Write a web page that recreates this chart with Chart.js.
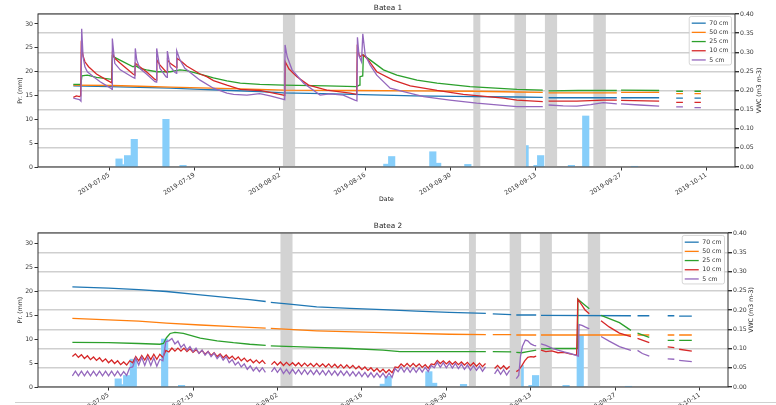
<!DOCTYPE html>
<html>
<head>
<meta charset="utf-8">
<script src="https://cdn.jsdelivr.net/npm/chart.js@4.4.1/dist/chart.umd.min.js"></script>
<style>
  html, body { margin: 0; padding: 0; background: #fff; overflow: hidden; }
  body { width: 776px; height: 405px; position: relative; }
  #batea1 { position: absolute; left: 0; top: 0; }
  #batea2 { position: absolute; left: 0; top: 210px; }
  .edge { position: absolute; left: 15px; right: 0; top: 402px; height: 1px; background: #d0d0d0; }
</style>
</head>
<body>
<canvas id="batea1" width="776" height="210"></canvas>
<canvas id="batea2" width="776" height="240"></canvas>
<div class="edge"></div>
<script>
// x values are days counted from 2019-07-05
const tickDays = [0, 14, 28, 42, 56, 70, 84, 98];
const tickLabels = ['2019-07-05', '2019-07-19', '2019-08-02', '2019-08-16', '2019-08-30', '2019-09-13', '2019-09-27', '2019-10-11'];
const prTicks = [0, 5, 10, 15, 20, 25, 30];
const vwcTicks = [0, 0.05, 0.10, 0.15, 0.20, 0.25, 0.30, 0.35, 0.40];
const depthLabels = ['70 cm', '50 cm', '25 cm', '10 cm', '5 cm'];

// precipitation (mm), same for both beds
const precipDays = [1.6, 2.35, 3.0, 4.1, 9.3, 12.1, 45.55, 46.35, 53.1, 53.9, 58.85, 68.25, 70.2, 70.8, 75.85, 78.2, 86.2];
const precipMm   = [1.7, 0.5, 2.4, 5.8, 10.0, 0.35, 0.6, 2.2, 3.2, 0.8, 0.55, 4.5, 0.35, 2.4, 0.35, 10.7, 0.15];

// grey periods [from, to] in days
const greyPeriods = [[28.5, 30.5], [59.75, 60.9], [66.5, 68.4], [71.5, 73.5], [79.45, 81.5]];

// ---- Batea 1, VWC (m3 m-3) as [day, value]
const b1_70 = [[-5.9,0.212],[0,0.210],[5,0.208],[10,0.206],[15,0.203],[20,0.200],[24.7,0.197],[28.6,0.194],[35,0.192],[40,0.190],[50,0.186],[60,0.184],[66.9,0.183],[71.15,0.182],[71.6,null],[72.1,0.181],[83.3,0.181],[83.7,null],[84.0,0.181],[90.25,0.181],[91,null],[93.05,0.180],[94.15,0.180],[95,null],[96.05,0.180],[97.1,0.180]];
const b1_50 = [[-5.9,0.214],[0.5,0.213],[5,0.211],[10,0.209],[15,0.207],[20,0.205],[24.7,0.203],[28.6,0.201],[40,0.200],[50,0.199],[60,0.198],[66.9,0.196],[71.15,0.195],[71.6,null],[72.1,0.194],[83.3,0.194],[83.7,null],[84.0,0.195],[90.25,0.195],[91,null],[93.05,0.192],[94.15,0.192],[95,null],[96.05,0.192],[97.1,0.192]];
const b1_25 = [[-5.9,0.216],[-4.65,0.216],[-4.5,0.238],[-3.6,0.240],[-2.1,0.234],[0.4,0.229],[0.5,0.290],[1.2,0.284],[3.9,0.262],[4.3,0.265],[5.0,0.258],[6.1,0.254],[7.8,0.249],[10.0,0.249],[11.6,0.254],[12.7,0.252],[14.9,0.243],[17.1,0.233],[19.3,0.225],[21.5,0.219],[24.7,0.216],[28.6,0.214],[35.7,0.212],[40.6,0.210],[41.05,0.214],[41.15,0.236],[41.6,0.238],[41.7,0.293],[42.8,0.280],[45.0,0.254],[47.2,0.240],[50.5,0.227],[53.8,0.219],[59.2,0.210],[66.9,0.203],[71.15,0.201],[71.6,null],[72.1,0.199],[77,0.200],[83.3,0.200],[83.7,null],[84.0,0.201],[90.25,0.200],[91,null],[93.05,0.198],[94.15,0.198],[95,null],[96.05,0.198],[97.1,0.198]];
const b1_10 = [[-5.9,0.182],[-5.4,0.186],[-4.9,0.184],[-4.7,0.186],[-4.6,0.315],[-4.3,0.290],[-4.0,0.275],[-3.4,0.262],[-2.1,0.243],[-0.4,0.227],[0.4,0.220],[0.52,0.297],[0.9,0.284],[1.8,0.271],[3.9,0.243],[4.2,0.240],[4.27,0.271],[5.0,0.262],[6.1,0.249],[7.5,0.229],[7.74,0.227],[7.8,0.280],[8.3,0.267],[9.3,0.249],[9.5,0.247],[9.56,0.280],[10.0,0.271],[10.8,0.262],[11.05,0.260],[11.1,0.284],[11.9,0.275],[12.7,0.264],[14.9,0.243],[16.0,0.236],[17.1,0.226],[19.3,0.214],[21.5,0.203],[24.7,0.200],[28.6,0.188],[28.8,0.187],[28.88,0.275],[29.5,0.256],[30.8,0.236],[32.7,0.214],[35.7,0.201],[39.5,0.193],[40.6,0.190],[40.7,0.310],[41.1,0.288],[41.6,0.293],[42.0,0.288],[42.5,0.280],[43.9,0.249],[46.6,0.227],[49.4,0.212],[53.8,0.200],[58.1,0.190],[64.7,0.180],[66.9,0.175],[71.15,0.171],[71.6,null],[72.1,0.172],[76.75,0.172],[81.1,0.175],[83.3,0.175],[83.7,null],[84.0,0.174],[90.25,0.172],[91,null],[93.05,0.169],[94.15,0.169],[95,null],[96.05,0.169],[97.1,0.169]];
const b1_5 = [[-5.9,0.180],[-5.4,0.178],[-4.9,0.176],[-4.65,0.172],[-4.53,0.361],[-4.3,0.288],[-4.0,0.262],[-3.6,0.249],[-2.6,0.236],[-1.5,0.223],[-0.4,0.212],[0.3,0.205],[0.45,0.203],[0.5,0.336],[0.9,0.271],[1.8,0.254],[3.9,0.234],[4.2,0.232],[4.27,0.310],[4.5,0.280],[5.0,0.258],[6.1,0.243],[7.5,0.223],[7.74,0.222],[7.78,0.310],[8.3,0.258],[9.3,0.236],[9.5,0.234],[9.53,0.303],[10.0,0.262],[10.8,0.247],[11.05,0.245],[11.07,0.304],[11.6,0.280],[12.4,0.258],[14.9,0.227],[17.1,0.206],[19.3,0.193],[20.4,0.190],[22.6,0.188],[24.7,0.192],[26.4,0.186],[28.6,0.177],[28.8,0.176],[28.85,0.319],[29.2,0.288],[30.0,0.254],[31.9,0.219],[34.6,0.188],[36.2,0.191],[38.4,0.188],[40.3,0.175],[40.65,0.173],[40.73,0.339],[41.0,0.290],[41.4,0.275],[41.61,0.348],[42.0,0.293],[42.8,0.267],[43.9,0.240],[46.1,0.206],[48.3,0.197],[51.6,0.184],[55.9,0.175],[60.3,0.167],[66.9,0.158],[71.15,0.158],[71.6,null],[72.1,0.162],[74.5,0.160],[76.75,0.159],[79,0.163],[81.1,0.168],[83.3,0.165],[83.7,null],[84.0,0.165],[87,0.162],[90.25,0.159],[91,null],[93.05,0.157],[94.15,0.157],[95,null],[96.05,0.155],[97.1,0.155]];

// ---- Batea 2
const b2_70 = [[-6,0.260],[0,0.257],[5,0.253],[9.6,0.248],[15.2,0.239],[20.7,0.231],[23.4,0.227],[26.05,0.222],[26.5,null],[26.9,0.220],[30,0.215],[34.5,0.208],[40,0.204],[45.5,0.201],[51,0.197],[56.5,0.194],[62.55,0.191],[63.1,null],[63.7,0.190],[66.75,0.188],[67.1,null],[67.6,0.187],[70.9,0.187],[71.3,null],[71.7,0.186],[86.6,0.185],[87.1,null],[87.7,0.185],[89.65,0.185],[91,null],[92.7,0.185],[93.8,0.185],[94.2,null],[94.6,0.184],[96.7,0.184]];
const b2_50 = [[-6,0.178],[5,0.171],[9.6,0.166],[15.2,0.161],[20.7,0.157],[26.05,0.153],[26.5,null],[26.9,0.152],[34.5,0.146],[45.5,0.141],[56.5,0.137],[62.55,0.136],[63.1,null],[63.7,0.136],[66.75,0.136],[67.1,null],[67.6,0.135],[70.9,0.135],[71.3,null],[71.7,0.135],[86.6,0.135],[87.1,null],[87.7,0.135],[89.65,0.135],[91,null],[92.7,0.135],[93.8,0.135],[94.2,null],[94.6,0.135],[96.7,0.135]];
const b2_25 = [[-6,0.116],[0,0.115],[5,0.113],[8.5,0.111],[9.1,0.113],[9.6,0.128],[10.2,0.139],[11,0.142],[12.4,0.139],[15.2,0.127],[18,0.120],[20.7,0.115],[23.4,0.111],[26.05,0.108],[26.5,null],[26.9,0.107],[34.5,0.103],[40,0.100],[45.5,0.096],[48.3,0.092],[56.5,0.092],[62.55,0.092],[63.1,null],[63.7,0.092],[66.75,0.091],[67.1,null],[67.6,0.090],[68.5,0.089],[69.5,0.092],[70.9,0.096],[71.3,null],[71.7,0.099],[74,0.100],[77.7,0.100],[77.8,0.228],[78.5,0.219],[79.7,0.203],[80.5,null],[81.65,0.186],[84.7,0.167],[86.6,0.147],[87.1,null],[87.7,0.140],[89.65,0.129],[91,null],[92.7,0.121],[93.8,0.121],[94.2,null],[94.6,0.121],[96.7,0.121]];
// 10 cm and 5 cm swing every day: readings every half day from day -6 to 66.5, then the tail
const b2_10_halfDay = [
  0.079,0.086,0.077,0.084,0.074,0.081,0.071,0.078,0.069,0.076,0.066,0.073,
  0.063,0.070,0.061,0.068,0.058,0.065,0.057,0.068,0.063,0.079,0.068,0.082,
  0.070,0.084,0.071,0.085,0.072,0.085,0.077,0.095,0.091,0.101,0.093,0.101,
  0.093,0.101,0.092,0.099,0.090,0.097,0.088,0.095,0.085,0.092,0.082,0.089,
  0.079,0.086,0.076,0.083,0.074,0.080,0.071,0.078,0.068,0.075,0.066,0.072,
  0.063,0.070,0.062,0.069,0.060,null,0.058,0.066,0.057,0.065,0.056,0.064,
  0.056,0.063,0.055,0.063,0.054,0.062,0.054,0.061,0.053,0.061,0.053,0.060,
  0.052,0.060,0.051,0.059,0.050,0.058,0.049,0.057,0.049,0.056,0.047,0.054,
  0.045,0.052,0.043,0.050,0.041,0.048,0.039,0.046,0.037,0.045,0.037,0.052,
  0.050,0.060,0.053,0.061,0.053,0.061,0.053,0.060,0.051,0.058,0.049,0.060,
  0.058,0.069,0.061,0.068,0.060,0.067,0.059,0.066,0.058,0.065,0.057,0.064,
  0.055,0.063,0.054,0.062,0.053,0.061,null,null,0.048,0.056,0.047,0.055,
  0.046,0.054];
const b2_10_tail = [[67.1,null],[67.6,0.040],[68.0,0.044],[68.5,0.055],[69.0,0.068],[69.5,0.077],[70.0,0.079],[70.5,0.078],[70.9,0.080],[71.3,null],[71.7,0.096],[72.5,0.092],[73.5,0.094],[74.5,0.089],[75.5,0.090],[76.5,0.086],[77.6,0.083],[77.8,0.228],[78.5,0.212],[79.0,0.200],[79.7,0.190],[80.5,null],[81.65,0.172],[83.0,0.156],[84.7,0.140],[86.6,0.131],[87.1,null],[87.7,0.126],[89.65,0.115],[91.0,null],[92.7,0.104],[93.8,0.102],[94.2,null],[94.6,0.098],[96.7,0.093]];
const b2_5_halfDay = [
  0.029,0.041,0.029,0.041,0.029,0.041,0.029,0.041,0.029,0.041,0.029,0.041,
  0.029,0.041,0.029,0.041,0.029,0.040,0.030,0.050,0.052,0.075,0.057,0.077,
  0.056,0.077,0.056,0.076,0.054,0.072,0.068,0.118,0.120,0.126,0.112,0.119,
  0.103,0.111,0.096,0.105,0.092,0.101,0.087,0.096,0.083,0.092,0.079,0.088,
  0.074,0.083,0.070,0.079,0.063,0.071,0.057,0.065,0.052,0.060,0.046,0.055,
  0.042,0.051,0.040,0.050,0.038,null,0.039,0.050,0.038,0.049,0.035,0.046,
  0.034,0.046,0.034,0.045,0.033,0.045,0.033,0.044,0.032,0.044,0.032,0.043,
  0.031,0.043,0.031,0.042,0.030,0.042,0.030,0.041,0.029,0.040,0.028,0.039,
  0.027,0.038,0.026,0.037,0.025,0.036,0.025,0.036,0.024,0.036,0.025,0.048,
  0.040,0.052,0.039,0.051,0.038,0.050,0.038,0.050,0.039,0.051,0.040,0.056,
  0.050,0.064,0.051,0.063,0.050,0.062,0.049,0.061,0.048,0.059,0.046,0.057,
  0.044,0.055,0.043,0.054,0.041,0.052,null,null,0.034,0.046,0.033,0.045,
  0.031,0.043];
const b2_5_tail = [[67.1,null],[67.6,0.022],[68.0,0.030],[68.3,0.080],[68.6,0.105],[69.1,0.122],[69.5,0.120],[70.0,0.112],[70.5,0.108],[70.9,0.107],[71.3,null],[71.7,0.112],[72.5,0.108],[73.5,0.101],[74.5,0.096],[75.5,0.091],[76.5,0.087],[77.5,0.082],[77.9,0.080],[78.0,0.162],[78.5,0.160],[79.0,0.156],[79.7,0.151],[80.5,null],[81.65,0.131],[83.0,0.119],[84.7,0.105],[86.6,0.095],[87.1,null],[87.7,0.095],[88.5,0.087],[89.65,0.080],[91.0,null],[92.7,0.073],[93.8,0.072],[94.2,null],[94.6,0.069],[96.7,0.066]];

const FONT = '"DejaVu Sans", sans-serif';
const depthColors = ['#1f77b4', '#ff7f0e', '#2ca02c', '#d62728', '#9467bd'];

function halfDaySeries(startDay, values) {
  return values.map((v, i) => [startDay + i * 0.5, v]);
}

// grey periods go over the bars but under the lines
const greyBands = {
  id: 'greyBands',
  afterDatasetDraw(chart, args) {
    if (chart.data.datasets[args.index].type !== 'bar') return;
    const { ctx, chartArea: a, scales: { x } } = chart;
    ctx.save();
    ctx.beginPath();
    ctx.rect(a.left, a.top, a.width, a.height);
    ctx.clip();
    ctx.fillStyle = '#d3d3d3';
    greyPeriods.forEach(([from, to]) => {
      const x0 = x.getPixelForValue(from), x1 = x.getPixelForValue(to);
      ctx.fillRect(x0, a.top, x1 - x0, a.height);
    });
    ctx.restore();
  }
};

const frameAndLegend = {
  id: 'frameAndLegend',
  afterDraw(chart, args, opts) {
    const { ctx, chartArea: a } = chart;
    ctx.save();
    ctx.strokeStyle = '#333';
    ctx.lineWidth = 1;
    ctx.strokeRect(a.left, a.top, a.width, a.height);

    // right axis title, read bottom to top
    ctx.fillStyle = '#222';
    ctx.font = '6.2px ' + FONT;
    ctx.textAlign = 'center';
    ctx.textBaseline = 'middle';
    ctx.translate(a.right + opts.rightTitleOffset, (a.top + a.bottom) / 2);
    ctx.rotate(-Math.PI / 2);
    ctx.fillText(opts.rightTitle, 0, 0);
    ctx.restore();

    // legend box in the upper right corner
    const items = chart.data.datasets.filter(d => d.type === 'line');
    ctx.save();
    ctx.font = '6.2px ' + FONT;
    const textW = Math.max(...items.map(d => ctx.measureText(d.label).width));
    const rowH = 9.2, lineLen = 14;
    const w = 2.5 + lineLen + 3.5 + textW + 3;
    const h = 6.7 + (items.length - 1) * rowH + 5;
    const x0 = a.right - 3.5 - w, y0 = a.top + 2.5;
    ctx.fillStyle = 'rgba(255,255,255,0.85)';
    ctx.strokeStyle = '#cccccc';
    ctx.lineWidth = 0.8;
    ctx.beginPath();
    ctx.roundRect(x0, y0, w, h, 2);
    ctx.fill();
    ctx.stroke();
    ctx.textAlign = 'left';
    ctx.textBaseline = 'middle';
    items.forEach((d, i) => {
      const y = y0 + 6.7 + i * rowH;
      ctx.strokeStyle = d.borderColor;
      ctx.lineWidth = 1.3;
      ctx.beginPath();
      ctx.moveTo(x0 + 2.5, y);
      ctx.lineTo(x0 + 2.5 + lineLen, y);
      ctx.stroke();
      ctx.fillStyle = '#333';
      ctx.fillText(d.label, x0 + 2.5 + lineLen + 3.5, y);
    });
    ctx.restore();
  }
};

function drawBed(canvasId, title, series, layout) {
  const precipPoints = precipDays
    .map((d, i) => ({ x: d, y: precipMm[i] }))
    .sort((p, q) => p.y - q.y); // small bars first, taller neighbours cover them

  const datasets = [{
    type: 'bar',
    label: 'Pr.',
    data: precipPoints,
    yAxisID: 'y',
    backgroundColor: '#87cefa',
    borderWidth: 0,
    barThickness: 6.5,
    order: 10
  }];
  series.forEach((data, i) => {
    datasets.push({
      type: 'line',
      label: depthLabels[i],
      data: data,
      yAxisID: 'y1',
      borderColor: depthColors[i],
      borderWidth: 1.3,
      pointRadius: 0,
      tension: 0,
      spanGaps: false,
      order: 5 - i
    });
  });

  const tickFont = { family: FONT, size: 6.2 };

  new Chart(document.getElementById(canvasId), {
    type: 'line',
    data: { datasets },
    options: {
      responsive: false,
      animation: false,
      events: [],
      layout: { padding: 0 },
      plugins: {
        legend: { display: false },
        tooltip: { enabled: false },
        title: {
          display: true, text: title, color: '#222',
          font: { family: FONT, size: 7.3, weight: 'normal' },
          padding: { top: layout.titleTop, bottom: layout.titleBottom }
        },
        frameAndLegend: { rightTitle: 'VWC (m3 m-3)', rightTitleOffset: layout.rightTitleOffset }
      },
      scales: {
        x: {
          type: 'linear', min: -11.7, max: 102.7, offset: false,
          afterFit: s => { s.height = layout.xHeight; },
          afterBuildTicks: s => { s.ticks = tickDays.map(v => ({ value: v })); },
          grid: { display: true, drawOnChartArea: false, drawTicks: true, tickLength: 3.5, tickColor: '#333', offset: false },
          border: { display: false },
          ticks: {
            autoSkip: false, minRotation: 32, maxRotation: 32, padding: 1,
            color: '#333', font: tickFont,
            callback: (v, i) => tickLabels[i]
          },
          title: { display: true, text: 'Date', color: '#222', font: tickFont, padding: { top: 0, bottom: 6.6 } }
        },
        y: {
          position: 'left', min: 0, max: 32.1,
          afterFit: s => { s.width = 38; },
          afterBuildTicks: s => { s.ticks = prTicks.map(v => ({ value: v })); },
          grid: { drawOnChartArea: false, tickLength: 3.5, tickColor: '#333' },
          border: { display: false },
          ticks: { padding: 1.5, color: '#333', font: tickFont, callback: v => String(v) },
          title: { display: true, text: 'Pr. (mm)', color: '#222', font: tickFont, padding: { top: 16.3, bottom: 0 } }
        },
        y1: {
          position: 'right', min: 0, max: 0.4,
          afterFit: s => { s.width = layout.rightWidth; },
          afterBuildTicks: s => { s.ticks = vwcTicks.map(v => ({ value: v })); },
          grid: { drawOnChartArea: true, color: '#cfcfcf', lineWidth: 1.4, tickLength: 4, tickColor: '#333' },
          border: { display: false },
          ticks: { padding: 1, color: '#333', font: tickFont, callback: v => v.toFixed(2) }
        }
      }
    },
    plugins: [greyBands, frameAndLegend]
  });
}

drawBed('batea1', 'Batea 1', [b1_70, b1_50, b1_25, b1_10, b1_5],
  { titleTop: 3.9, titleBottom: 1.3, xHeight: 43, rightWidth: 41, rightTitleOffset: 24 });

drawBed('batea2', 'Batea 2', [
    b2_70, b2_50, b2_25,
    halfDaySeries(-6, b2_10_halfDay).concat(b2_10_tail),
    halfDaySeries(-6, b2_5_halfDay).concat(b2_5_tail)
  ],
  { titleTop: 11.6, titleBottom: 2.6, xHeight: 63, rightWidth: 48, rightTitleOffset: 23 });
</script>
